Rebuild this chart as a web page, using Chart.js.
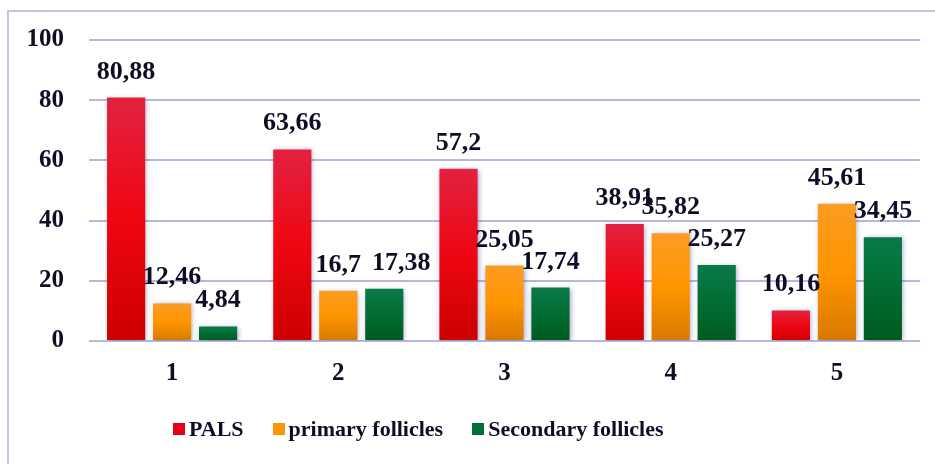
<!DOCTYPE html>
<html>
<head>
<meta charset="utf-8">
<script src="https://cdn.jsdelivr.net/npm/chart.js@4.4.1/dist/chart.umd.min.js"></script>
<style>
  html, body { margin: 0; padding: 0; background: #fff; }
  #wrap { position: relative; width: 935px; height: 464px; overflow: hidden; }
  #frame { position: absolute; left: 7px; top: 10px; width: 940px; height: 470px;
           border-left: 2px solid #c3c6e6; border-top: 2px solid #c3c6e6; }
  #chart { position: absolute; left: 0; top: 0; }
  #legend { position: absolute; left: 173px; top: 416px; display: flex; align-items: center;
            font: bold 22px "Liberation Serif", "Times New Roman", serif; color: #0d0d26; }
  .item { display: flex; align-items: center; margin-right: 29px; }
  .box { width: 12px; height: 12px; margin-right: 4px; }
</style>
</head>
<body>
<div id="wrap">
  <div id="frame"></div>
  <canvas id="chart" width="935" height="464"></canvas>
  <div id="legend"></div>
</div>
<script>
// Data
const categories = ['1', '2', '3', '4', '5'];
const seriesNames = ['PALS', 'primary follicles', 'Secondary follicles'];
const palsValues = [80.88, 63.66, 57.2, 38.91, 10.16];
const primaryValues = [12.46, 16.7, 25.05, 35.82, 45.61];
const secondaryValues = [4.84, 17.38, 17.74, 25.27, 34.45];
const yTicks = [0, 20, 40, 60, 80, 100];

const textColor = '#0d0d26';
const serif = '"Liberation Serif", "Times New Roman", serif';

// gradient stops per series (top -> bottom of each bar)
const gradStops = [
    ['#e2223f', '#ee0612', '#cc0000'],
    ['#fb9c24', '#ff9500', '#d77800'],
    ['#0a7a4a', '#016d32', '#005a1c']
];
const legendColors = ['#e8001a', '#ff9500', '#007035'];

// a label that was nudged sideways in the original so it doesn't collide
// key: "dataset-index:category-index" -> px
const labelNudge = { '2:1': 17 };

function barGradient(series) {
    return function (context) {
        const chart = context.chart;
        const y = chart.scales.y;
        if (!chart.chartArea || !y || context.raw == null) return gradStops[series][1];
        const top = y.getPixelForValue(context.raw);
        const bottom = y.getPixelForValue(0);
        const g = chart.ctx.createLinearGradient(0, top, 0, bottom);
        g.addColorStop(0, gradStops[series][0]);
        g.addColorStop(0.5, gradStops[series][1]);
        g.addColorStop(1, gradStops[series][2]);
        return g;
    };
}

// soft shadow behind bars
const barShadow = {
    id: 'barShadow',
    beforeDatasetsDraw(chart) {
        const ctx = chart.ctx;
        ctx.save();
        ctx.shadowColor = 'rgba(50, 50, 130, 0.45)';
        ctx.shadowBlur = 5;
        ctx.shadowOffsetX = 1;
        ctx.shadowOffsetY = 1;
    },
    afterDatasetsDraw(chart) {
        chart.ctx.restore();
    }
};

// value labels above bars
const valueLabels = {
    id: 'valueLabels',
    afterDatasetsDraw(chart) {
        const ctx = chart.ctx;
        ctx.save();
        ctx.font = 'bold 26px ' + serif;
        ctx.fillStyle = textColor;
        ctx.textAlign = 'center';
        ctx.textBaseline = 'alphabetic';
        chart.data.datasets.forEach((ds, i) => {
            chart.getDatasetMeta(i).data.forEach((bar, j) => {
                const txt = String(ds.data[j]).replace('.', ',');
                const dx = labelNudge[i + ':' + j] || 0;
                ctx.fillText(txt, bar.x + dx, bar.y - 19);
            });
        });
        ctx.restore();
    }
};

const ctx = document.getElementById('chart');

new Chart(ctx, {
    type: 'bar',
    data: {
        labels: categories,
        datasets: [
            { label: seriesNames[0], data: palsValues, backgroundColor: barGradient(0) },
            { label: seriesNames[1], data: primaryValues, backgroundColor: barGradient(1) },
            { label: seriesNames[2], data: secondaryValues, backgroundColor: barGradient(2) }
        ]
    },
    options: {
        responsive: false,
        animation: false,
        devicePixelRatio: 1,
        categoryPercentage: 0.83,
        barPercentage: 0.83,
        layout: { padding: { top: 40, right: 15, bottom: 63, left: 0 } },
        plugins: {
            legend: { display: false },
            tooltip: { enabled: false }
        },
        scales: {
            x: {
                grid: { display: false },
                border: { display: false },
                ticks: { color: textColor, font: { family: serif, size: 25, weight: 'bold' }, padding: 10 },
                afterFit(scale) { scale.height = 60; }
            },
            y: {
                min: 0,
                max: 100,
                afterBuildTicks(scale) { scale.ticks = yTicks.map(v => ({ value: v })); },
                grid: { color: '#b4b8de', lineWidth: 2, drawTicks: false },
                border: { display: false },
                ticks: { color: textColor, font: { family: serif, size: 25, weight: 'bold' }, padding: 25 },
                afterFit(scale) { scale.width = 89; }
            }
        }
    },
    plugins: [barShadow, valueLabels]
});

// legend
const legend = document.getElementById('legend');
seriesNames.forEach((name, i) => {
    const item = document.createElement('div');
    item.className = 'item';
    const box = document.createElement('span');
    box.className = 'box';
    box.style.background = legendColors[i];
    const label = document.createElement('span');
    label.textContent = name;
    item.appendChild(box);
    item.appendChild(label);
    legend.appendChild(item);
});
</script>
</body>
</html>
